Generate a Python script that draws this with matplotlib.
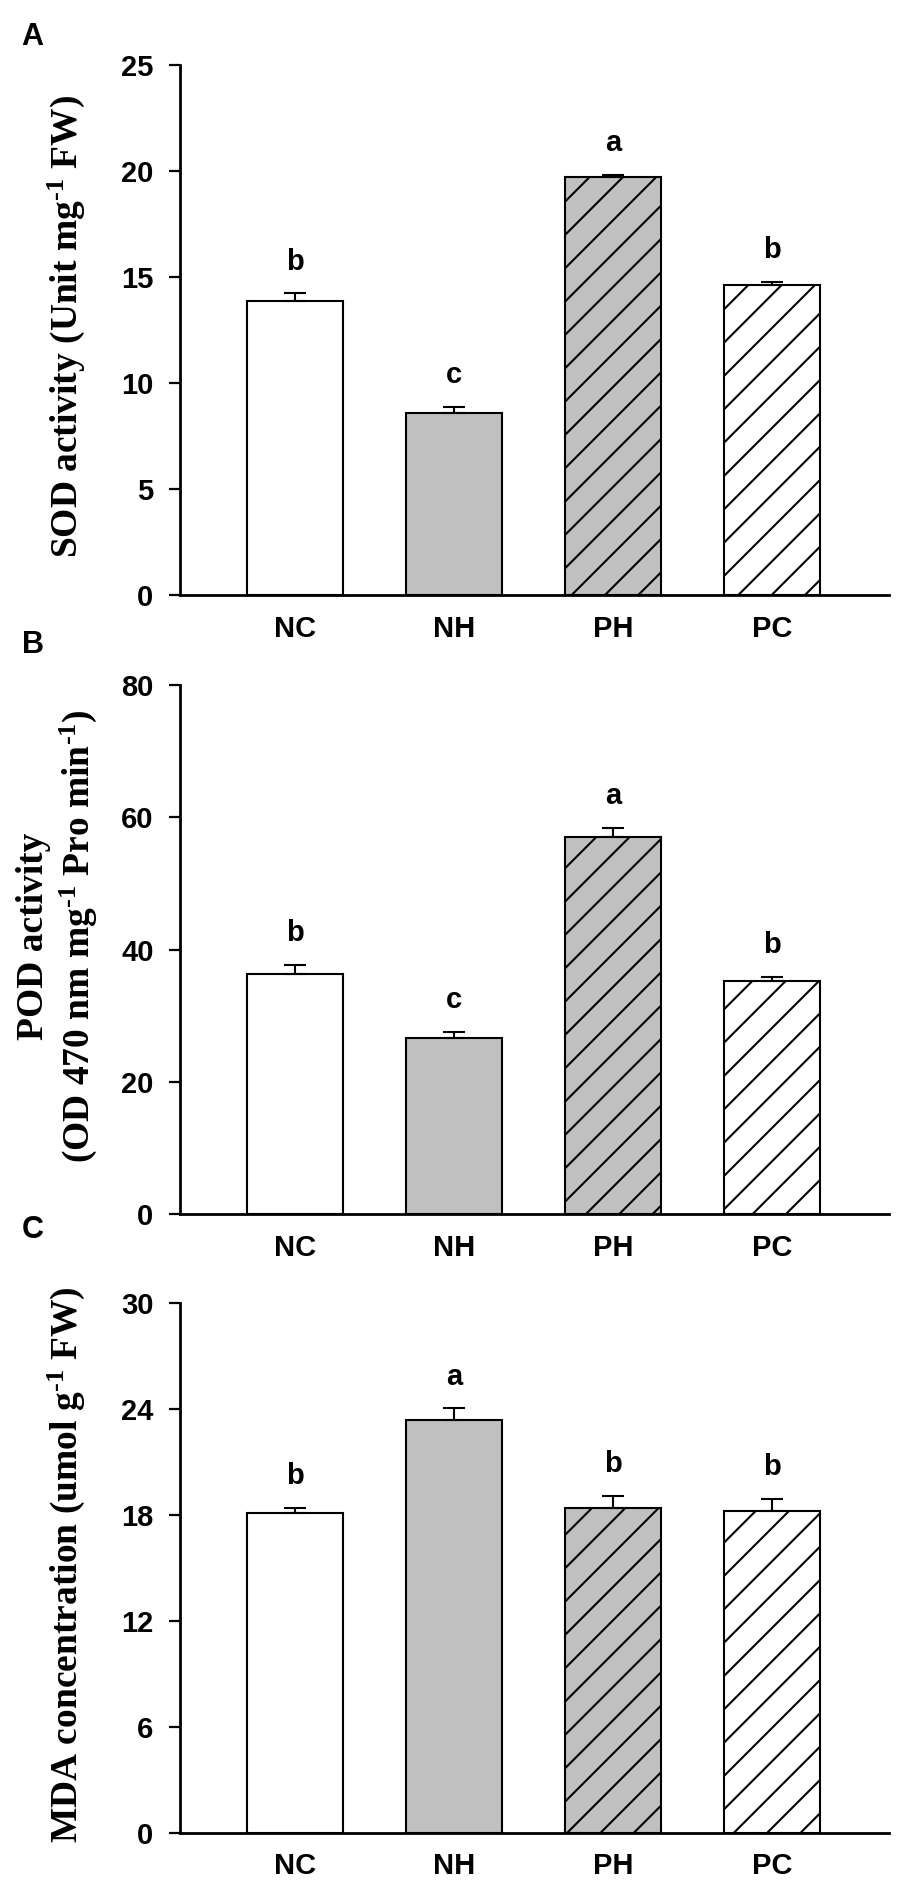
import matplotlib
matplotlib.use("Agg")
import matplotlib.pyplot as plt

plt.rcParams['font.family'] = ['Liberation Sans', 'DejaVu Sans']
plt.rcParams['mathtext.fontset'] = 'custom'
plt.rcParams['mathtext.rm'] = 'Liberation Serif:bold'
plt.rcParams['mathtext.it'] = 'Liberation Serif:bold'
plt.rcParams['mathtext.bf'] = 'Liberation Serif:bold'
plt.rcParams['hatch.linewidth'] = 0.75

groups = ['NC', 'NH', 'PH', 'PC']
fills = ['white', '#c0c0c0', '#c0c0c0', 'white']
hatches = ['', '', '//', '//']

sod_mean = [13.9, 8.6, 19.75, 14.65]
sod_err = [0.35, 0.3, 0.08, 0.15]
sod_letters = ['b', 'c', 'a', 'b']

pod_mean = [36.3, 26.6, 57.0, 35.3]
pod_err = [1.4, 1.0, 1.4, 0.6]
pod_letters = ['b', 'c', 'a', 'b']

mda_mean = [18.1, 23.4, 18.4, 18.25]
mda_err = [0.3, 0.65, 0.7, 0.65]
mda_letters = ['b', 'a', 'b', 'b']

sup = r'$^{\text{-1}}$'
panels = [
    ('A', sod_mean, sod_err, sod_letters, [0, 5, 10, 15, 20, 25],
     'SOD activity (Unit mg' + sup + ' FW)', 0.6853),
    ('B', pod_mean, pod_err, pod_letters, [0, 20, 40, 60, 80],
     'POD activity\n(OD 470 nm mg' + sup + ' Pro min' + sup + ')', 0.3581),
    ('C', mda_mean, mda_err, mda_letters, [0, 6, 12, 18, 24, 30],
     'MDA concentration (umol g' + sup + ' FW)', 0.0312),
]
panel_label_y = [0.9804, 0.6591, 0.3499]

fig = plt.figure(figsize=(4.5, 9.46), dpi=200)
x = list(range(len(groups)))

for (tag, means, errs, letters, yticks, ylabel, bottom), ly in zip(panels, panel_label_y):
    ax = fig.add_axes([0.2, bottom, 0.7878, 0.2801])
    ax.bar(x, means, width=0.604, color=fills, edgecolor='black',
           linewidth=0.75, hatch=hatches, zorder=2)
    ax.errorbar(x, means, yerr=[[0] * len(means), errs], fmt='none',
                ecolor='black', elinewidth=0.75, capsize=4.1, capthick=0.75,
                zorder=3)
    for xi, m, e, letter in zip(x, means, errs, letters):
        ax.annotate(letter, (xi, m + e), xytext=(0, 8.5), textcoords='offset points',
                    ha='center', va='baseline', fontsize=10.5, fontweight='bold')

    ax.set_xlim(-0.725, 3.734)
    ax.set_ylim(yticks[0], yticks[-1])
    ax.set_yticks(yticks)
    ax.set_xticks(x)
    ax.set_xticklabels(groups)
    for s in ['top', 'right']:
        ax.spines[s].set_visible(False)
    for s in ['left', 'bottom']:
        ax.spines[s].set_linewidth(1.0)
    ax.tick_params(axis='y', length=4, width=0.8, pad=5.5, labelsize=10.5)
    ax.tick_params(axis='x', length=0, pad=7, labelsize=10.5)
    for lab in ax.get_xticklabels() + ax.get_yticklabels():
        lab.set_fontweight('bold')

    cy = bottom + 0.2801 / 2
    if tag == 'B':
        fig.text(0.064, cy + 0.007, ylabel, rotation=90, ha='center', va='center',
                 multialignment='center', family='Liberation Serif',
                 fontweight='bold', fontsize=13.5)
    else:
        fig.text(0.074, cy + 0.002, ylabel, rotation=90, ha='center', va='center',
                 family='Liberation Serif', fontweight='bold', fontsize=13.5)

    fig.text(0.024, ly, tag, ha='left', va='center', fontsize=11, fontweight='bold')

fig.savefig('out.png', dpi=200)
